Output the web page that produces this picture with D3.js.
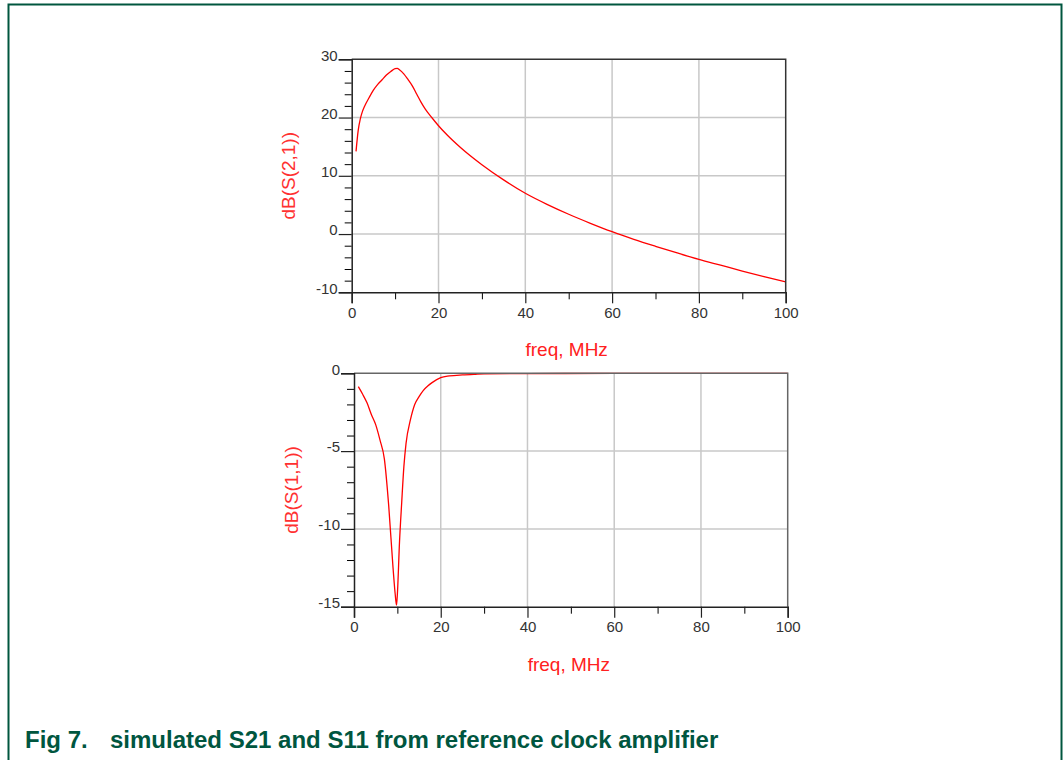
<!DOCTYPE html>
<html>
<head>
<meta charset="utf-8">
<script src="https://cdn.jsdelivr.net/npm/d3@7"></script>
<style>
  body { margin: 0; background: #fff; }
  svg { display: block; font-family: "Liberation Sans", Arial, sans-serif; }
</style>
</head>
<body>
<div id="chart"></div>
<script>
(function(){

  // S21 (top plot)
  var s21Freq = [1, 1.5, 2, 2.5, 3, 4, 5, 6, 7, 8, 9, 10, 10.5, 11, 12, 13, 14, 15, 16, 17, 18, 19, 20, 22, 25, 30, 35, 40, 45, 50, 55, 60, 65, 70, 75, 80, 85, 90, 95, 100];
  var s21dB   = [14.2, 17.8, 19.8, 21.1, 22.0, 23.4, 24.7, 25.7, 26.5, 27.3, 27.9, 28.4, 28.45, 28.2, 27.5, 26.5, 25.4, 24.0, 22.6, 21.4, 20.4, 19.5, 18.6, 17.0, 14.9, 11.9, 9.3, 7.0, 5.1, 3.4, 1.85, 0.4, -0.9, -2.1, -3.25, -4.35, -5.35, -6.35, -7.3, -8.2];

  // S11 (bottom plot)
  var s11Freq = [1, 2, 3, 4, 5, 6, 7, 8, 9, 9.5, 9.8, 10, 10.5, 11, 11.5, 12, 13, 14, 15, 16, 17, 18, 20, 22, 25, 28, 30, 40, 60, 80, 100];
  var s11dB   = [-0.86, -1.35, -1.9, -2.65, -3.3, -4.3, -5.5, -8.5, -12.5, -14.2, -14.9, -14.2, -10.8, -8.3, -6.0, -4.5, -3.0, -2.0, -1.5, -1.1, -0.82, -0.6, -0.28, -0.17, -0.1, -0.06, -0.04, -0.02, -0.01, -0.01, -0.01];

  var freqTicks = [0, 20, 40, 60, 80, 100];
  var freqMinor = [10, 30, 50, 70, 90];
  var s21Ticks = [-10, 0, 10, 20, 30];
  var s11Ticks = [-15, -10, -5, 0];

  var caption = ['Fig 7.', 'simulated S21 and S11 from reference clock amplifier'];
  var xLabel = 'freq, MHz';

  var svg = d3.select('#chart')
    .append('svg')
    .attr('width', 1063)
    .attr('height', 760);

  // outer figure frame
  svg.append('path')
    .attr('d', 'M8.5,770 V4.5 H1061.5 V770')
    .attr('fill', 'none')
    .attr('stroke', '#00563f')
    .attr('stroke-width', 2);

  function plot(opts) {
    var x = d3.scaleLinear().domain([0, 100]).range([opts.left, opts.right]);
    var y = d3.scaleLinear().domain(opts.yDomain).range([opts.bottom, opts.top]);
    var g = svg.append('g');

    // grid
    g.selectAll('line.vgrid')
      .data(freqTicks.slice(1, -1))
      .enter()
      .append('line')
      .attr('x1', function(d) {return x(d);})
      .attr('x2', function(d) {return x(d);})
      .attr('y1', opts.top)
      .attr('y2', opts.bottom)
      .attr('stroke', '#c8c8c8')
      .attr('stroke-width', 1.5);

    g.selectAll('line.hgrid')
      .data(opts.yTicks.slice(1, -1))
      .enter()
      .append('line')
      .attr('x1', opts.left)
      .attr('x2', opts.right)
      .attr('y1', function(d) {return y(d);})
      .attr('y2', function(d) {return y(d);})
      .attr('stroke', '#c8c8c8')
      .attr('stroke-width', 1.5);

    // curve
    g.append('path')
      .datum(d3.range(opts.freq.length))
      .attr('fill', 'none')
      .attr('stroke', '#ff0000')
      .attr('stroke-width', 1.3)
      .attr('d', d3.line()
        .curve(d3.curveMonotoneX)
        .x(function(i) {return x(opts.freq[i]);})
        .y(function(i) {return y(opts.dB[i]);}));

    // top and right frame
    g.append('path')
      .attr('d', 'M' + opts.left + ',' + opts.top + ' H' + opts.right + ' V' + opts.bottom)
      .attr('fill', 'none')
      .attr('stroke', opts.frameColor)
      .attr('stroke-width', 1.5);

    // minor ticks
    g.append('g')
      .attr('transform', 'translate(0,' + opts.bottom + ')')
      .call(d3.axisBottom(x).tickValues(freqMinor).tickSize(7).tickFormat(''))
      .call(function(a) {a.select('.domain').remove();});

    g.append('g')
      .attr('transform', 'translate(' + opts.left + ',0)')
      .call(d3.axisLeft(y).tickValues(opts.yMinor).tickSize(7).tickFormat(''))
      .call(function(a) {a.select('.domain').remove();});

    // major axes
    var fmt = function(d) {return String(d);};
    var xa = g.append('g')
      .attr('transform', 'translate(0,' + opts.bottom + ')')
      .call(d3.axisBottom(x).tickValues(freqTicks).tickFormat(fmt).tickSizeOuter(0).tickSize(11).tickPadding(4));
    var ya = g.append('g')
      .attr('transform', 'translate(' + opts.left + ',0)')
      .call(d3.axisLeft(y).tickValues(opts.yTicks).tickFormat(fmt).tickSizeOuter(0).tickSize(13).tickPadding(1));

    [xa, ya].forEach(function(a) {
      a.attr('font-size', 15).attr('font-family', null);
      a.select('.domain').attr('stroke', '#222').attr('stroke-width', 1.5);
      a.selectAll('.tick line').attr('stroke', '#222').attr('stroke-width', 1.2);
      a.selectAll('.tick text').attr('fill', '#333');
    });
    ya.selectAll('.tick text').attr('dy', '0.05em');

    // labels
    svg.append('text')
      .attr('transform', 'translate(' + (opts.left - 63) + ',' + ((opts.top + opts.bottom) / 2) + ') rotate(-90)')
      .attr('text-anchor', 'middle')
      .attr('dy', '0.35em')
      .attr('fill', '#ff3030')
      .style('font-size', '19px')
      .text(opts.yLabel);

    svg.append('text')
      .attr('x', (opts.left + opts.right) / 2 - 2)
      .attr('y', opts.bottom + 64)
      .attr('text-anchor', 'middle')
      .attr('fill', '#ff2020')
      .style('font-size', '19px')
      .text(xLabel);
  }

  plot({
    left: 351.7, right: 785.7, top: 59.3, bottom: 292.3,
    yDomain: [-10, 30], yTicks: s21Ticks,
    yMinor: d3.range(-8, 30, 2).filter(function(v) {return v % 10 !== 0;}),
    freq: s21Freq, dB: s21dB,
    yLabel: 'dB(S(2,1))', frameColor: '#333'
  });

  plot({
    left: 354, right: 787.7, top: 373.3, bottom: 606.7,
    yDomain: [-15, 0], yTicks: s11Ticks,
    yMinor: d3.range(-14, 0, 1).filter(function(v) {return v % 5 !== 0;}),
    freq: s11Freq, dB: s11dB,
    yLabel: 'dB(S(1,1))', frameColor: '#666'
  });

  // caption
  var cap = svg.append('text')
    .attr('y', 748)
    .attr('fill', '#00563f')
    .style('font-size', '24px')
    .style('font-weight', 'bold');
  cap.append('tspan').attr('x', 25).text(caption[0]);
  cap.append('tspan').attr('x', 110).text(caption[1]);

})();
</script>
</body>
</html>
